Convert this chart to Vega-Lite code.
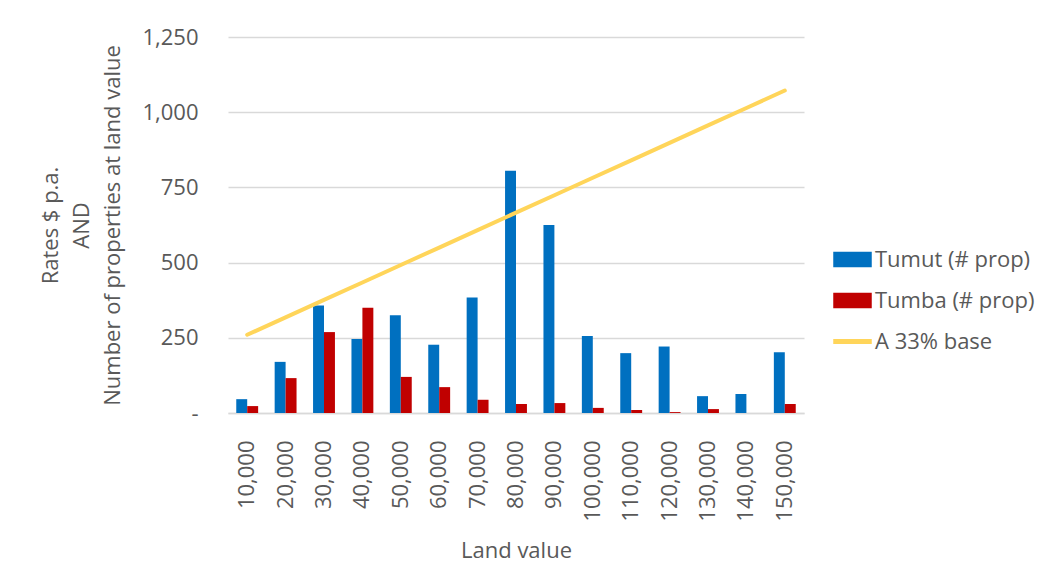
{
  "$schema": "https://vega.github.io/schema/vega-lite/v6.json",
  "autosize": "none",
  "width": 576,
  "height": 376,
  "padding": {"left": 228, "top": 37, "right": 237, "bottom": 165},
  "background": "white",
  "config": {
    "font": "Open Sans",
    "view": {"stroke": null},
    "axis": {"labelColor": "#595959", "titleColor": "#595959", "labelFontSize": 22, "titleFontSize": 22, "titleFontWeight": "normal", "labelFont": "Open Sans", "titleFont": "Open Sans"},
    "legend": {"labelColor": "#595959", "labelFontSize": 22, "labelFont": "Open Sans"}
  },
  "data": {
    "values": [
      {"land": 10000, "series": "Tumut (# prop)", "v": 46},
      {"land": 20000, "series": "Tumut (# prop)", "v": 170},
      {"land": 30000, "series": "Tumut (# prop)", "v": 357},
      {"land": 40000, "series": "Tumut (# prop)", "v": 246},
      {"land": 50000, "series": "Tumut (# prop)", "v": 325},
      {"land": 60000, "series": "Tumut (# prop)", "v": 227},
      {"land": 70000, "series": "Tumut (# prop)", "v": 384},
      {"land": 80000, "series": "Tumut (# prop)", "v": 805},
      {"land": 90000, "series": "Tumut (# prop)", "v": 625},
      {"land": 100000, "series": "Tumut (# prop)", "v": 256},
      {"land": 110000, "series": "Tumut (# prop)", "v": 199},
      {"land": 120000, "series": "Tumut (# prop)", "v": 221},
      {"land": 130000, "series": "Tumut (# prop)", "v": 56},
      {"land": 140000, "series": "Tumut (# prop)", "v": 63},
      {"land": 150000, "series": "Tumut (# prop)", "v": 202},
      {"land": 10000, "series": "Tumba (# prop)", "v": 23},
      {"land": 20000, "series": "Tumba (# prop)", "v": 116},
      {"land": 30000, "series": "Tumba (# prop)", "v": 269},
      {"land": 40000, "series": "Tumba (# prop)", "v": 350},
      {"land": 50000, "series": "Tumba (# prop)", "v": 120},
      {"land": 60000, "series": "Tumba (# prop)", "v": 86},
      {"land": 70000, "series": "Tumba (# prop)", "v": 44},
      {"land": 80000, "series": "Tumba (# prop)", "v": 30},
      {"land": 90000, "series": "Tumba (# prop)", "v": 33},
      {"land": 100000, "series": "Tumba (# prop)", "v": 17},
      {"land": 110000, "series": "Tumba (# prop)", "v": 10},
      {"land": 120000, "series": "Tumba (# prop)", "v": 3},
      {"land": 130000, "series": "Tumba (# prop)", "v": 13},
      {"land": 140000, "series": "Tumba (# prop)", "v": 0},
      {"land": 150000, "series": "Tumba (# prop)", "v": 30},
      {"land": 10000, "series": "A 33% base", "v": 260},
      {"land": 20000, "series": "A 33% base", "v": 318},
      {"land": 30000, "series": "A 33% base", "v": 376},
      {"land": 40000, "series": "A 33% base", "v": 434},
      {"land": 50000, "series": "A 33% base", "v": 492},
      {"land": 60000, "series": "A 33% base", "v": 550},
      {"land": 70000, "series": "A 33% base", "v": 608},
      {"land": 80000, "series": "A 33% base", "v": 666},
      {"land": 90000, "series": "A 33% base", "v": 724},
      {"land": 100000, "series": "A 33% base", "v": 782},
      {"land": 110000, "series": "A 33% base", "v": 840},
      {"land": 120000, "series": "A 33% base", "v": 898},
      {"land": 130000, "series": "A 33% base", "v": 956},
      {"land": 140000, "series": "A 33% base", "v": 1014},
      {"land": 150000, "series": "A 33% base", "v": 1072}
    ]
  },
  "encoding": {
    "x": {
      "field": "land", "type": "ordinal",
      "scale": {"paddingInner": 0.43, "paddingOuter": 0.215},
      "axis": {
        "title": "Land value", "format": ",d", "labelAngle": 270, "labelPadding": 27,
        "ticks": false, "domainColor": "#d9d9d9", "domainWidth": 1.5,
        "titleY": 144, "titleBaseline": "alphabetic"
      }
    },
    "y": {
      "field": "v", "type": "quantitative",
      "scale": {"domain": [0, 1250], "nice": false},
      "axis": {
        "values": [0, 250, 500, 750, 1000, 1250],
        "labelExpr": "datum.value === 0 ? '-\u00a0\u00a0\u00a0' : format(datum.value, ',')",
        "grid": true, "gridColor": "#d9d9d9", "gridWidth": 1.3, "domain": false, "ticks": false, "labelPadding": 30,
        "title": ["Rates $ p.a.", "AND", "Number of properties at land value"],
        "titleAngle": 270, "titleX": -178, "titleY": 188, "titleBaseline": "middle", "titleAlign": "center", "titleLineHeight": 31
      }
    },
    "color": {
      "field": "series", "type": "nominal",
      "scale": {"domain": ["Tumut (# prop)", "Tumba (# prop)", "A 33% base"], "range": ["#0070C0", "#C00000", "#FFD55A"]},
      "legend": {
        "title": null, "orient": "none", "legendX": 605, "legendY": 203,
        "symbolSize": 1369, "rowPadding": 10, "labelOffset": 3, "padding": 0,
        "symbolType": "M-1,-0.38H1V0.38H-1Z",
        "encode": {
          "symbols": {
            "update": {
              "shape": {"signal": "datum.label === 'A 33% base' ? 'M-1,-0.1H1V0.1H-1Z' : 'M-1,-0.38H1V0.38H-1Z'"},
              "fill": {"scale": "color", "field": "value"},
              "stroke": {"value": "transparent"},
              "opacity": {"value": 1}
            }
          }
        }
      }
    }
  },
  "layer": [
    {
      "transform": [{"filter": "datum.series !== 'A 33% base'"}],
      "mark": {"type": "bar"},
      "encoding": {
        "xOffset": {"field": "series", "type": "nominal", "sort": ["Tumut (# prop)", "Tumba (# prop)"], "scale": {"paddingInner": 0, "paddingOuter": 0}}
      }
    },
    {
      "transform": [{"filter": "datum.series === 'A 33% base'"}],
      "mark": {"type": "line", "strokeWidth": 4, "strokeCap": "round"},
      "encoding": {}
    }
  ]
}
